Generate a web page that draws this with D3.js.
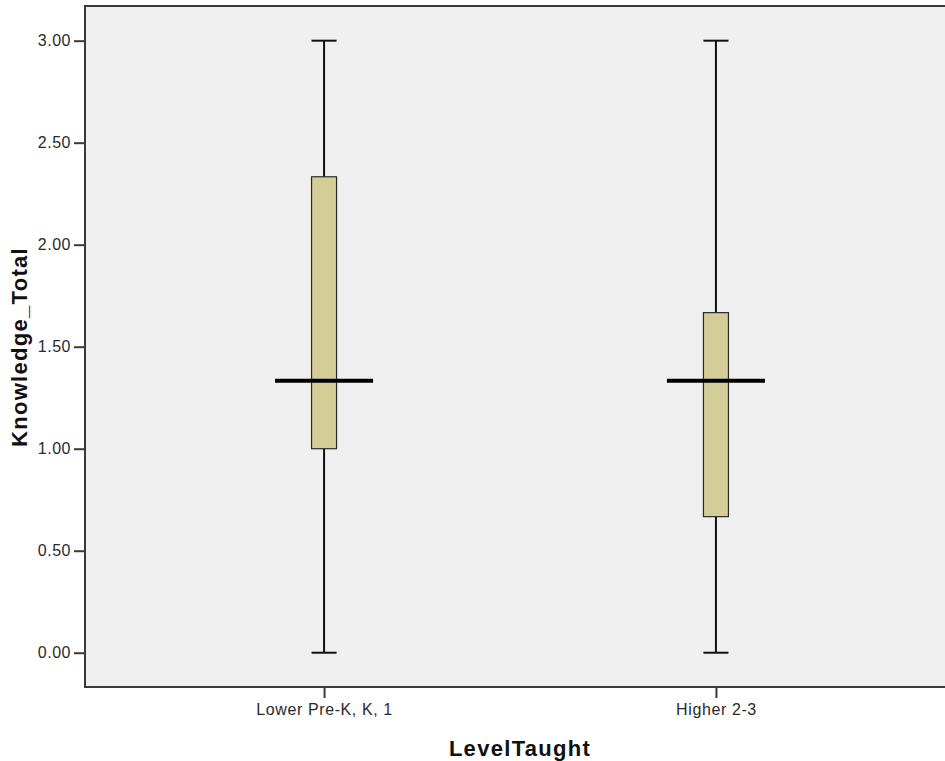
<!DOCTYPE html>
<html>
<head>
<meta charset="utf-8">
<script src="https://cdn.jsdelivr.net/npm/d3@7"></script>
<style>
  body { margin: 0; background: #fff; }
  svg { display: block; }
</style>
</head>
<body>
<div id="chart"></div>
<script>
// values
var levels = ["Lower Pre-K, K, 1", "Higher 2-3"];
var mins = [0.00, 0.00];
var q1s = [1.00, 0.667];
var medians = [1.333, 1.333];
var q3s = [2.333, 1.667];
var maxs = [3.00, 3.00];
var yTicks = [0, 0.5, 1, 1.5, 2, 2.5, 3];

var width = 945,
    height = 761,
    plot = {left: 85, top: 6, right: 955, bottom: 687};

var svg = d3.select("#chart").append("svg")
    .attr("width", width)
    .attr("height", height);

var x = d3.scalePoint().domain(levels).range([plot.left, plot.right]).padding(0.61),
    y = d3.scaleLinear().domain([-0.168, 3.17]).range([plot.bottom, plot.top]);

var boxes = levels.map(function(d, i) {
  return {level: d, min: mins[i], q1: q1s[i], median: medians[i], q3: q3s[i], max: maxs[i]};
});

var boxW = 25, capW = 25, medW = 98;

svg.append("rect")
    .attr("x", plot.left)
    .attr("y", plot.top)
    .attr("width", plot.right - plot.left)
    .attr("height", plot.bottom - plot.top)
    .attr("fill", "#f0f0f0")
    .attr("stroke", "#3a3a3a")
    .attr("stroke-width", 2);

// y axis
var yAxis = svg.append("g")
    .attr("transform", "translate(" + plot.left + ",0)")
    .call(d3.axisLeft(y).tickValues(yTicks).tickFormat(d3.format(".2f")).tickSize(11).tickPadding(3));
yAxis.select(".domain").remove();
yAxis.selectAll(".tick line").attr("stroke", "#3a3a3a").attr("stroke-width", 2);
yAxis.selectAll(".tick text")
    .attr("fill", "#2a2a2a")
    .style("font", "16px 'Liberation Sans', Arial, sans-serif")
    .style("letter-spacing", "0.5px");

// x axis
var xAxis = svg.append("g")
    .attr("transform", "translate(0," + plot.bottom + ")")
    .call(d3.axisBottom(x).tickSize(11).tickPadding(6));
xAxis.select(".domain").remove();
xAxis.selectAll(".tick line").attr("stroke", "#3a3a3a").attr("stroke-width", 2);
xAxis.selectAll(".tick text")
    .attr("fill", "#2a2a2a")
    .style("font", "16px 'Liberation Sans', Arial, sans-serif")
    .style("letter-spacing", "0.6px");

svg.append("text")
    .attr("x", 520)
    .attr("y", 756)
    .attr("text-anchor", "middle")
    .attr("fill", "#111")
    .style("font", "bold 22px 'Liberation Sans', Arial, sans-serif")
    .style("letter-spacing", "1.3px")
    .text("LevelTaught");

svg.append("text")
    .attr("transform", "translate(27,347) rotate(-90)")
    .attr("text-anchor", "middle")
    .attr("fill", "#111")
    .style("font", "bold 22px 'Liberation Sans', Arial, sans-serif")
    .style("letter-spacing", "1.3px")
    .text("Knowledge_Total");

var box = svg.selectAll(".box")
  .data(boxes)
  .enter().append("g")
    .attr("class", "box");

// whiskers
box.append("line")
    .attr("x1", function(d) { return x(d.level); })
    .attr("x2", function(d) { return x(d.level); })
    .attr("y1", function(d) { return y(d.max); })
    .attr("y2", function(d) { return y(d.q3); })
    .attr("stroke", "#111").attr("stroke-width", 2);
box.append("line")
    .attr("x1", function(d) { return x(d.level); })
    .attr("x2", function(d) { return x(d.level); })
    .attr("y1", function(d) { return y(d.q1); })
    .attr("y2", function(d) { return y(d.min); })
    .attr("stroke", "#111").attr("stroke-width", 2);

// caps
box.selectAll(".cap")
  .data(function(d) { return [{level: d.level, v: d.max}, {level: d.level, v: d.min}]; })
  .enter().append("line")
    .attr("class", "cap")
    .attr("x1", function(d) { return x(d.level) - capW / 2; })
    .attr("x2", function(d) { return x(d.level) + capW / 2; })
    .attr("y1", function(d) { return y(d.v); })
    .attr("y2", function(d) { return y(d.v); })
    .attr("stroke", "#111").attr("stroke-width", 2);

box.append("rect")
    .attr("x", function(d) { return x(d.level) - boxW / 2; })
    .attr("y", function(d) { return y(d.q3); })
    .attr("width", boxW)
    .attr("height", function(d) { return y(d.q1) - y(d.q3); })
    .attr("fill", "#d3ce97")
    .attr("stroke", "#2a2a2a")
    .attr("stroke-width", 1.2);

box.append("line")
    .attr("x1", function(d) { return x(d.level) - medW / 2; })
    .attr("x2", function(d) { return x(d.level) + medW / 2; })
    .attr("y1", function(d) { return y(d.median); })
    .attr("y2", function(d) { return y(d.median); })
    .attr("stroke", "#000").attr("stroke-width", 4);
</script>
</body>
</html>
